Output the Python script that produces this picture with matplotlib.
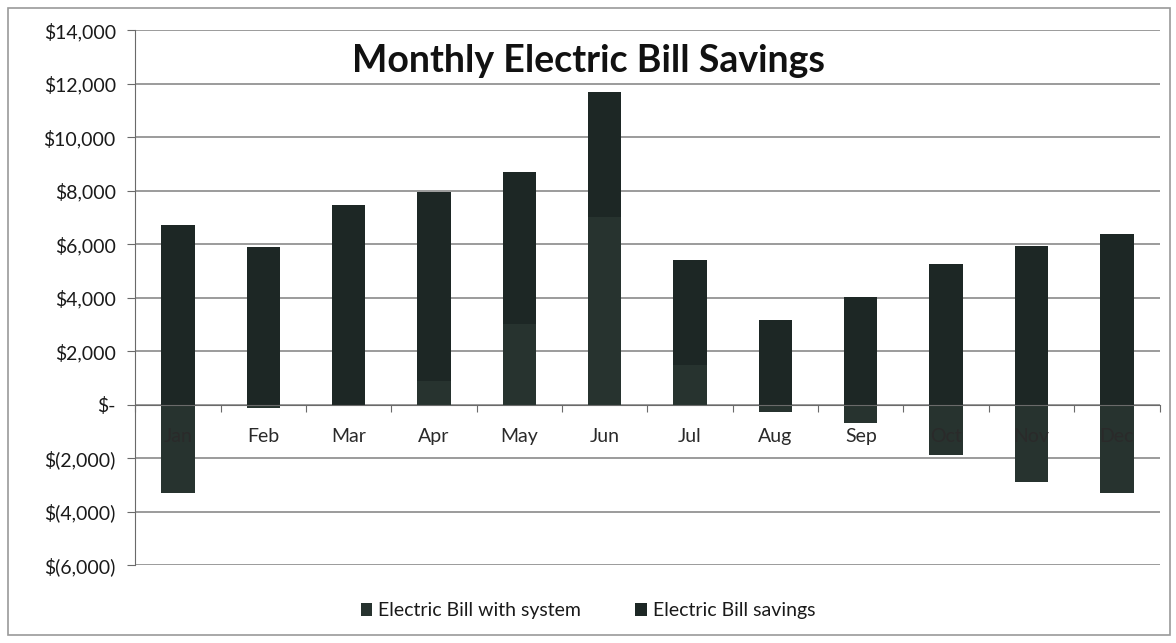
import numpy as np
import matplotlib
matplotlib.use('Agg')
import matplotlib.pyplot as plt
from matplotlib.ticker import FuncFormatter, MultipleLocator
from matplotlib.patches import Rectangle

months = ['Jan', 'Feb', 'Mar', 'Apr', 'May', 'Jun', 'Jul', 'Aug', 'Sep', 'Oct', 'Nov', 'Dec']
bill_with_system = [-3300, -120, 0, 900, 3000, 7000, 1500, -260, -680, -1880, -2900, -3300]
bill_savings = [6700, 5900, 7450, 7050, 5700, 4700, 3900, 3150, 4020, 5250, 5950, 6400]

plt.rcParams['font.family'] = ['Lato', 'DejaVu Sans']


def money(v, pos):
    if v == 0:
        return '$-'
    if v < 0:
        return '$({:,.0f})'.format(-v)
    return '${:,.0f}'.format(v)


def main():
    fig = plt.figure(figsize=(11.76, 6.43), dpi=100)
    ax = fig.add_axes([0.115, 0.121, 0.871, 0.832])

    x = np.arange(len(months))
    sys_vals = np.array(bill_with_system)
    sav_vals = np.array(bill_savings)

    # excel style stacking: positives go up from 0, negatives down from 0
    sys_pos = np.where(sys_vals > 0, sys_vals, 0)
    ax.bar(x, sys_vals, width=0.39, color='#27332f', label='Electric Bill with system', zorder=2)
    ax.bar(x, sav_vals, width=0.39, bottom=sys_pos, color='#1d2725', label='Electric Bill savings', zorder=2)

    ax.set_xlim(-0.5, 11.5)
    ax.set_ylim(-6000, 14000)
    ax.yaxis.set_major_locator(MultipleLocator(2000))
    ax.yaxis.set_major_formatter(FuncFormatter(money))
    ax.grid(axis='y', color='#8a8a8a', linewidth=1.2)
    ax.set_axisbelow(True)

    for s in ['top', 'right']:
        ax.spines[s].set_visible(False)
    ax.spines['left'].set_color('#6a6a6a')
    ax.spines['bottom'].set_position(('data', 0))
    ax.spines['bottom'].set_color('#6a6a6a')

    # month labels sit just under the zero line, drawn on top of the bars
    ax.set_xticks(np.arange(-0.5, 12, 1))
    ax.set_xticklabels([])
    ax.tick_params(axis='x', length=5, color='#6a6a6a')
    for i, m in enumerate(months):
        ax.text(i, -1200, m, ha='center', va='center', fontsize=14, color='#2a2a2a', zorder=3)

    ax.tick_params(axis='y', length=6, color='#6a6a6a', labelsize=14, labelcolor='#1a1a1a', pad=8)

    fig.text(0.5, 0.905, 'Monthly Electric Bill Savings',
             ha='center', va='center', fontsize=27, fontweight='bold', color='#111111')

    fig.legend(loc='center', bbox_to_anchor=(0.5, 0.05), ncol=2, frameon=False,
               fontsize=14, handlelength=0.6, handleheight=0.6, columnspacing=2.8,
               handletextpad=0.3, labelcolor='#1a1a1a')

    fig.patches.append(Rectangle((0.007, 0.012), 0.988, 0.975, transform=fig.transFigure,
                                 fill=False, edgecolor='#9a9a9a', linewidth=1.2))

    fig.savefig('out.png', dpi=100)


if __name__ == '__main__':
    main()
